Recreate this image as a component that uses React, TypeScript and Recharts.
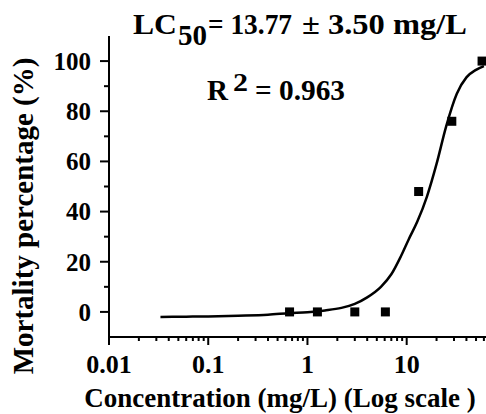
import React from "react";
import { ComposedChart, Line, Scatter, XAxis, YAxis } from "recharts";

// measured mortality (%) at each concentration (mg/L)
const concentrations = [0.66, 1.26, 3.0, 6.1, 13.2, 28.5, 57.5];
const mortality = [0, 0, 0, 0, 48, 76, 100];

// fitted dose-response curve
const curveX = [0.033, 0.06, 0.1, 0.2, 0.4, 0.66, 1, 1.5, 2.2, 3, 4, 5.5, 7, 8.7, 10.5, 12.8, 16, 20, 25, 32, 40, 50, 60];
const curveY = [-2.0, -1.9, -1.8, -1.5, -1.1, -0.5, -0.1, 0.6, 1.6, 3.2, 5.8, 10, 15, 22, 29, 36, 46, 59, 74, 87, 93.5, 96.5, 98];

const xMajorTicks = [0.01, 0.1, 1, 10];
const xMinorTicks = [
  0.02, 0.03, 0.04, 0.05, 0.06, 0.07, 0.08, 0.09,
  0.2, 0.3, 0.4, 0.5, 0.6, 0.7, 0.8, 0.9,
  2, 3, 4, 5, 6, 7, 8, 9,
  20, 30, 40, 50, 60,
];
const yMajorTicks = [0, 20, 40, 60, 80, 100];
const yMinorTicks = [10, 30, 50, 70, 90];

const FONT = "'Liberation Serif', 'Times New Roman', serif";

const points = concentrations.map((x, i) => ({ x, y: mortality[i] }));
const curve = curveX.map((x, i) => ({ x, fit: curveY[i] }));

const XTick = (props: any) => {
  const { x, y, payload } = props;
  const major = xMajorTicks.includes(payload.value);
  return (
    <g>
      <line x1={x} x2={x} y1={y} y2={y + (major ? 8 : 4)} stroke="#000" strokeWidth={2} />
      {major && (
        <text x={x} y={y + 36} textAnchor="middle" fontFamily={FONT} fontWeight="bold" fontSize={26} fill="#000">
          {payload.value}
        </text>
      )}
    </g>
  );
};

const YTick = (props: any) => {
  const { x, y, payload } = props;
  const major = yMajorTicks.includes(payload.value);
  return (
    <g>
      <line x1={x} x2={x - (major ? 9 : 5)} y1={y} y2={y} stroke="#000" strokeWidth={2} />
      {major && (
        <text x={x - 18} y={y} dy="0.35em" textAnchor="end" fontFamily={FONT} fontWeight="bold" fontSize={25} fill="#000">
          {payload.value}
        </text>
      )}
    </g>
  );
};

const Square = (props: any) => {
  const { cx, cy } = props;
  return <rect x={cx - 4.5} y={cy - 4.5} width={9} height={9} fill="#000" />;
};

export default function App() {
  return (
    <div style={{ position: "absolute", left: 0, top: 0, width: 486, height: 414, background: "#fff" }}>
      <ComposedChart width={486} height={414} margin={{ top: 36, right: 0, bottom: 0, left: 0 }}>
        <XAxis
          type="number"
          dataKey="x"
          scale="log"
          domain={[0.01, 63]}
          allowDataOverflow
          ticks={[...xMajorTicks, ...xMinorTicks]}
          interval={0}
          tickSize={0}
          tickMargin={0}
          tickLine={false}
          tick={<XTick />}
          axisLine={{ stroke: "#000", strokeWidth: 2 }}
          height={77}
        />
        <YAxis
          type="number"
          domain={[-10, 110]}
          allowDataOverflow
          ticks={[...yMajorTicks, ...yMinorTicks]}
          interval={0}
          tickSize={0}
          tickMargin={0}
          tickLine={false}
          tick={<YTick />}
          axisLine={{ stroke: "#000", strokeWidth: 2 }}
          width={109}
        />
        <Line
          data={curve}
          dataKey="fit"
          type="monotone"
          stroke="#000"
          strokeWidth={2.5}
          dot={false}
          isAnimationActive={false}
        />
        <Scatter data={points} dataKey="y" shape={<Square />} isAnimationActive={false} />
      </ComposedChart>
      <svg width={486} height={414} style={{ position: "absolute", left: 0, top: 0, pointerEvents: "none" }}>
        <g fontFamily={FONT} fontWeight="bold" fill="#000">
          <text x={133} y={34} fontSize={30} textLength={44} lengthAdjust="spacingAndGlyphs">LC</text>
          <text x={178} y={45} fontSize={30} textLength={29} lengthAdjust="spacingAndGlyphs">50</text>
          <text x={208} y={34} fontSize={30} textLength={84} lengthAdjust="spacingAndGlyphs">= 13.77</text>
          <text x={302} y={34} fontSize={30} textLength={165} lengthAdjust="spacingAndGlyphs">± 3.50 mg/L</text>
          <text x={207} y={100} fontSize={30} textLength={21} lengthAdjust="spacingAndGlyphs">R</text>
          <text x={233} y={91} fontSize={25} textLength={15} lengthAdjust="spacingAndGlyphs">2</text>
          <text x={255} y={100} fontSize={30} textLength={90} lengthAdjust="spacingAndGlyphs">= 0.963</text>
          <text x={280} y={407} fontSize={27} textAnchor="middle">Concentration (mg/L) (Log scale )</text>
          <text transform="translate(33, 216) rotate(-90)" fontSize={29} textAnchor="middle">Mortality percentage (%)</text>
        </g>
      </svg>
    </div>
  );
}
